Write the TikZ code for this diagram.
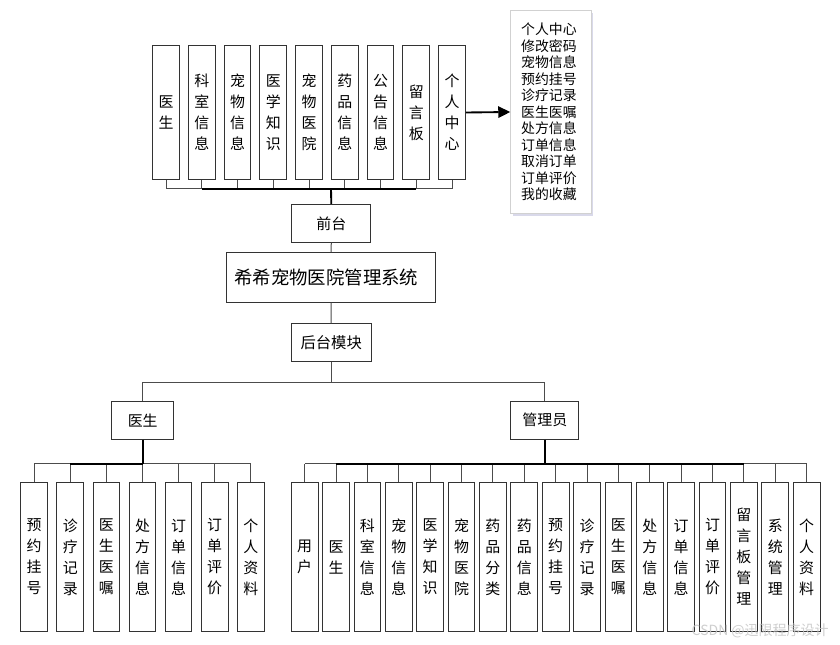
\documentclass[tikz,border=0pt]{standalone}
\usepackage{fontspec}
\newfontfamily\cjk{Noto Sans CJK SC}
\usetikzlibrary{arrows.meta,shadows}
\begin{document}
\begin{tikzpicture}[x=0.75pt,y=-0.75pt,
  box/.style={draw=black!80, line width=0.75pt, fill=white, inner sep=0pt, font=\cjk\fontsize{11.2}{15.75}\selectfont, align=center},
  vbox/.style={box, minimum width=20pt},
  tb/.style={vbox, minimum height=100.2pt},
  bb/.style={vbox, minimum height=112pt},
  hbox/.style={box, minimum height=28.4pt},
  wire/.style={draw=black!70, line width=0.75pt},
  trunk/.style={draw=black, line width=1.4pt}]
\fill[white] (0,0) rectangle (840,645);
\useasboundingbox (0,0) rectangle (840,645);

% top row
\node[tb] (t1) at (166,112.5) {医\\生};
\node[tb] (t2) at (201.75,112.5) {科\\室\\信\\息};
\node[tb] (t3) at (237.5,112.5) {宠\\物\\信\\息};
\node[tb] (t4) at (273.25,112.5) {医\\学\\知\\识};
\node[tb] (t5) at (309,112.5) {宠\\物\\医\\院};
\node[tb] (t6) at (344.75,112.5) {药\\品\\信\\息};
\node[tb] (t7) at (380.5,112.5) {公\\告\\信\\息};
\node[tb] (t8) at (416.25,112.5) {留\\言\\板};
\node[tb] (t9) at (452,112.5) {个\\人\\中\\心};

\coordinate (tbus) at (331,188.7);
\foreach \n in {t1,t2,t3,t4,t5,t6,t7,t8,t9} \draw[wire] (\n.south) -- (\n.south |- tbus);
\draw[wire] (t1.south |- tbus) -- (t9.south |- tbus);
\draw[trunk] (t2.south |- tbus) -- (t8.south |- tbus);

\node[hbox, minimum width=59.5pt] (qt) at (331.3,223.3) {前台};
\draw[trunk] (tbus) -- (qt.north);

% list box
\node[draw=black!18, fill=white, line width=0.75pt, inner sep=0pt,
  drop shadow={shadow xshift=1.5pt, shadow yshift=-1.8pt, fill=blue!30!gray!50, opacity=0.45},
  minimum width=60.2pt, minimum height=152pt,
  font=\cjk\fontsize{10.4}{12.4}\selectfont, align=left] (lst) at (550.9,112)
  {\hspace*{-3pt}个人中心\\\hspace*{-3pt}修改密码\\\hspace*{-3pt}宠物信息\\\hspace*{-3pt}预约挂号\\\hspace*{-3pt}诊疗记录\\\hspace*{-3pt}医生医嘱\\\hspace*{-3pt}处方信息\\\hspace*{-3pt}订单信息\\\hspace*{-3pt}取消订单\\\hspace*{-3pt}订单评价\\\hspace*{-3pt}我的收藏};
\draw[line width=1.4pt, -{Triangle[length=9pt,width=8.5pt]}] (t9.east) -- (lst.west);

% middle
\node[box, minimum width=156.5pt, minimum height=37pt, font=\cjk\fontsize{13.8}{16}\selectfont] (sys) at (331,277.35) {希希宠物医院管理系统\hspace*{7pt}};
\draw[wire] (qt.south) -- (sys.north);
\node[hbox, minimum width=60.2pt, font=\cjk\fontsize{11.5}{13}\selectfont] (ht) at (331.2,342.85) {后台模块};
\draw[wire] (sys.south) -- (ht.north);
\coordinate (mbus) at (331.2,382.7);
\node[hbox, minimum width=46.5pt] (ys) at (142.7,420.15) {医生};
\node[hbox, minimum width=51.2pt] (gly) at (544.85,420.15) {管理员};
\draw[wire] (ht.south) -- (mbus);
\draw[wire] (ys.north) |- (mbus) -| (gly.north);

% bottom left
\coordinate (lbus) at (142.7,464);
\foreach \x/\t [count=\i] in {34.2/预\\约\\挂\\号, 70.3/诊\\疗\\记\\录, 106.4/医\\生\\医\\嘱, 142.5/处\\方\\信\\息, 178.6/订\\单\\信\\息, 214.7/订\\单\\评\\价, 250.8/个\\人\\资\\料}
{
  \node[bb] (l\i) at (\x,557) {\t};
  \draw[wire] (l\i.north) -- (l\i.north |- lbus);
}
\draw[wire] (l1.north |- lbus) -- (l7.north |- lbus);
\draw[trunk] (l2.north |- lbus) -- (l4.north |- lbus);
\draw[trunk] (ys.south) -- (lbus);

% bottom right
\coordinate (rbus) at (544.85,464);
\foreach \x/\t [count=\i] in {304.7/用\\户, 336.075/医\\生, 367.45/科\\室\\信\\息, 398.825/宠\\物\\信\\息, 430.2/医\\学\\知\\识, 461.575/宠\\物\\医\\院, 492.95/药\\品\\分\\类, 524.325/药\\品\\信\\息, 555.7/预\\约\\挂\\号, 587.075/诊\\疗\\记\\录, 618.45/医\\生\\医\\嘱, 649.825/处\\方\\信\\息, 681.2/订\\单\\信\\息, 712.575/订\\单\\评\\价, 743.95/留\\言\\板\\管\\理, 775.325/系\\统\\管\\理, 806.7/个\\人\\资\\料}
{
  \node[bb] (r\i) at (\x,557) {\t};
  \draw[wire] (r\i.north) -- (r\i.north |- rbus);
}
\draw[wire] (r1.north |- rbus) -- (r17.north |- rbus);
\draw[trunk] (r2.north |- rbus) -- (r15.north |- rbus);
\draw[trunk] (gly.south) -- (rbus);

% watermark
\node[font=\cjk\fontsize{10.5}{12}\selectfont, text=gray!45, opacity=0.85, anchor=east, inner sep=0pt] (wm) at (829,631) {CSDN @迅限程序设计};
\end{tikzpicture}
\end{document}
